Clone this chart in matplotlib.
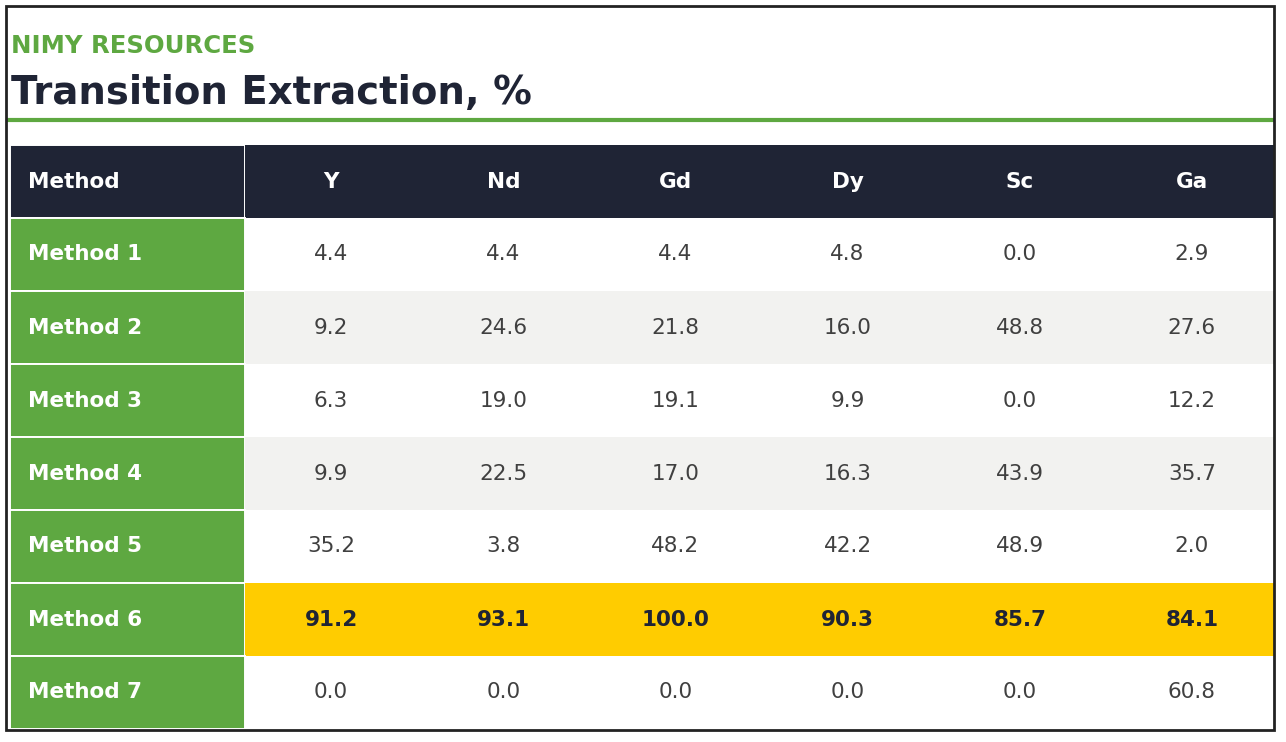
import matplotlib.pyplot as plt
from matplotlib.patches import Rectangle
from matplotlib.lines import Line2D

methods = ['Method 1', 'Method 2', 'Method 3', 'Method 4', 'Method 5', 'Method 6', 'Method 7']
elements = ['Y', 'Nd', 'Gd', 'Dy', 'Sc', 'Ga']
values = [
    [4.4, 4.4, 4.4, 4.8, 0.0, 2.9],
    [9.2, 24.6, 21.8, 16.0, 48.8, 27.6],
    [6.3, 19.0, 19.1, 9.9, 0.0, 12.2],
    [9.9, 22.5, 17.0, 16.3, 43.9, 35.7],
    [35.2, 3.8, 48.2, 42.2, 48.9, 2.0],
    [91.2, 93.1, 100.0, 90.3, 85.7, 84.1],
    [0.0, 0.0, 0.0, 0.0, 0.0, 60.8],
]
best = 'Method 6'

NAVY = '#1f2435'
GREEN = '#5ea841'
GOLD = '#ffcc00'
STRIPE = '#f2f2f0'
TEXT = '#404040'

W, H = 1286, 742
fig = plt.figure(figsize=(W / 100, H / 100), dpi=100)
fig.patch.set_facecolor('white')

fig.text(11 / W, 1 - 53 / H, 'NIMY RESOURCES', color=GREEN, fontsize=17.6,
         fontweight='bold', va='baseline', ha='left')
fig.text(11 / W, 1 - 104 / H, 'Transition Extraction, %', color=NAVY, fontsize=27.8,
         fontweight='bold', va='baseline', ha='left')
fig.add_artist(Line2D([9 / W, 1272 / W], [1 - 120 / H, 1 - 120 / H], transform=fig.transFigure,
                      color=GREEN, linewidth=3))

# table runs a few px under the right frame, as in the original
ax = fig.add_axes([10 / W, 1 - 729 / H, 1268 / W, 584 / H])
ax.axis('off')

cell_text = [[m] + ['%.1f' % v for v in row] for m, row in zip(methods, values)]
tbl = ax.table(cellText=cell_text, colLabels=['Method'] + elements,
               cellLoc='center', bbox=[0, 0, 1, 1])
tbl.auto_set_font_size(False)

first_w = 235
other_w = (1268 - first_w) / len(elements)
for (r, c), cell in tbl.get_celld().items():
    cell.set_width(first_w if c == 0 else other_w)
    txt = cell.get_text()
    txt.set_fontsize(15.5)
    if c == 0:
        # first column: white grid lines (half is hidden under the next cell)
        cell._loc = 'left'
        txt.set_ha('left')
        cell.PAD = 18 / first_w
        cell.set_edgecolor('white')
        cell.set_linewidth(1.4)
        cell.set_facecolor(NAVY if r == 0 else GREEN)
        txt.set_color('white')
        txt.set_fontweight('bold')
        continue
    cell.set_linewidth(0)
    cell.set_edgecolor('none')
    if r == 0:
        cell.set_facecolor(NAVY)
        txt.set_color('white')
        txt.set_fontweight('bold')
    elif methods[r - 1] == best:
        cell.set_facecolor(GOLD)
        txt.set_color(NAVY)
        txt.set_fontweight('bold')
    else:
        cell.set_facecolor(STRIPE if r % 2 == 0 else 'white')
        txt.set_color(TEXT)

# hide the part of the table that sits outside the frame, then draw the frame
fig.add_artist(Rectangle((1275 / W, 0), 11 / W, 1, transform=fig.transFigure,
                         facecolor='white', edgecolor='none', zorder=9))
fig.add_artist(Rectangle((6 / W, 1 - 730 / H), 1268 / W, 724 / H, transform=fig.transFigure,
                         fill=False, edgecolor='#222222', linewidth=2, zorder=10))

plt.savefig('out.png', dpi=100)
